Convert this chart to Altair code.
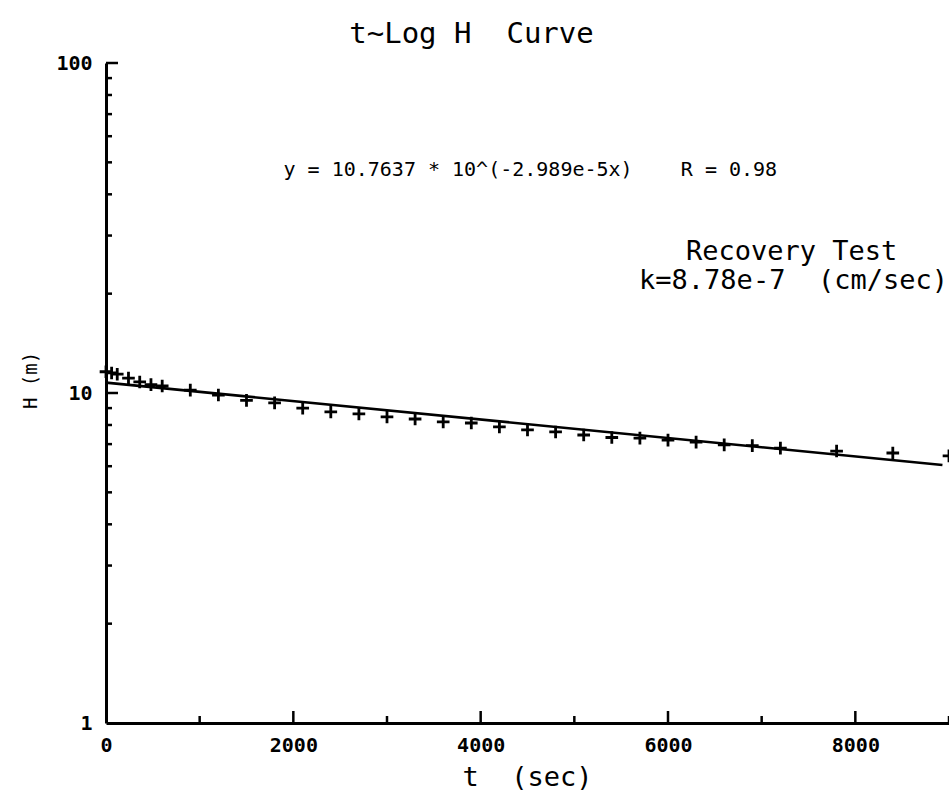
import altair as alt
import pandas as pd

NB = "\u00a0"

# observed points (t in sec, H in m)
t_obs = [0, 60, 120, 240, 360, 480, 600, 900, 1200, 1500, 1800, 2100, 2400, 2700,
         3000, 3300, 3600, 3900, 4200, 4500, 4800, 5100, 5400, 5700, 6000, 6300,
         6600, 6900, 7200, 7800, 8400, 9000]
h_obs = [11.6, 11.5, 11.4, 11.1, 10.8, 10.6, 10.5, 10.2, 9.86, 9.5, 9.33, 9.0, 8.76, 8.64,
         8.46, 8.34, 8.17, 8.11, 7.89, 7.73, 7.62, 7.46, 7.33, 7.3, 7.2, 7.1,
         6.96, 6.93, 6.81, 6.67, 6.58, 6.45]

# fitted line end points
fit_t = [0, 8930]
fit_h = [10.75, 6.05]

# axis ticks / labels
x_labels = [0, 2000, 4000, 6000, 8000]
x_major = [2000, 4000, 6000, 8000]
x_minor = [1000, 3000, 5000, 7000, 9000]
y_labels = [1, 10, 100]
y_major = [10, 100]
y_minor = [2, 3, 4, 5, 6, 7, 8, 9, 20, 30, 40, 50, 60, 70, 80, 90]

# annotations
ann_text = ["y = 10.7637 * 10^(-2.989e-5x)    R = 0.98", "Recovery Test", "k=8.78e-7  (cm/sec)"]
ann_t = [4530, 7320, 7340]
ann_h = [47.4, 26.75, 21.85]
ann_size = [20, 27, 27]

FONT = "DejaVu Sans Mono"
W, H = 843, 660

x_scale = alt.Scale(domain=[0, 9000], nice=False, zero=False)
y_scale = alt.Scale(type="log", domain=[1, 100], nice=False)

obs = pd.DataFrame({"t": t_obs, "H": h_obs})
fit = pd.DataFrame({"t": fit_t, "H": fit_h})
ann = pd.DataFrame({"t": ann_t, "H": ann_h,
                    "label": [s.replace(" ", NB) for s in ann_text], "size": ann_size})

x_axis = alt.Axis(values=x_labels, format="d", ticks=False, grid=False,
                  domainColor="black", domainWidth=3,
                  labelFont=FONT, labelFontSize=20, labelFontWeight="bold", labelColor="black",
                  labelPadding=22, labelBaseline="middle", labelFlush=False,
                  title="t" + NB + NB + "(sec)", titleFont=FONT, titleFontSize=27,
                  titleFontWeight="normal", titleColor="black",
                  titleX=421, titleY=54, titleBaseline="middle", titleAlign="center")
y_axis = alt.Axis(values=y_labels, format="d", ticks=False, grid=False,
                  domainColor="black", domainWidth=3,
                  labelFont=FONT, labelFontSize=20, labelFontWeight="bold", labelColor="black",
                  labelPadding=14, labelBaseline="middle", labelFlush=False,
                  title="H" + NB + "(m)", titleFont=FONT, titleFontSize=19,
                  titleFontWeight="normal", titleColor="black",
                  titleX=-76, titleY=317, titleAngle=270,
                  titleBaseline="middle", titleAlign="center")

points = alt.Chart(obs).mark_point(
    shape="M-1,0L1,0M0,-1L0,1", size=160, filled=False,
    color="black", strokeWidth=2.8, opacity=1
).encode(
    x=alt.X("t:Q", scale=x_scale, axis=x_axis),
    y=alt.Y("H:Q", scale=y_scale, axis=y_axis),
)

line = alt.Chart(fit).mark_line(color="black", strokeWidth=2.6).encode(
    x=alt.X("t:Q", scale=x_scale),
    y=alt.Y("H:Q", scale=y_scale),
)

y_maj = alt.Chart(pd.DataFrame({"H": y_major})).mark_rule(color="black", strokeWidth=2.5).encode(
    y=alt.Y("H:Q", scale=y_scale), x=alt.value(0), x2=alt.value(12))
y_min = alt.Chart(pd.DataFrame({"H": y_minor})).mark_rule(color="black", strokeWidth=2.5).encode(
    y=alt.Y("H:Q", scale=y_scale), x=alt.value(0), x2=alt.value(6))
x_maj = alt.Chart(pd.DataFrame({"t": x_major})).mark_rule(color="black", strokeWidth=2.5).encode(
    x=alt.X("t:Q", scale=x_scale), y=alt.value(H), y2=alt.value(H - 12))
x_min = alt.Chart(pd.DataFrame({"t": x_minor})).mark_rule(color="black", strokeWidth=2.5).encode(
    x=alt.X("t:Q", scale=x_scale), y=alt.value(H), y2=alt.value(H - 7))

texts = alt.Chart(ann).mark_text(font=FONT, color="black", align="center", baseline="middle").encode(
    x=alt.X("t:Q", scale=x_scale),
    y=alt.Y("H:Q", scale=y_scale),
    text="label:N",
    size=alt.Size("size:Q", scale=None, legend=None),
)

chart = alt.layer(points, line, y_maj, y_min, x_maj, x_min, texts).properties(
    width=W, height=H,
    title=alt.TitleParams("t~Log" + NB + "H" + NB + NB + "Curve", font=FONT, fontSize=29,
                          fontWeight="normal", color="black", anchor="middle",
                          dx=-56, offset=4),
    autosize=alt.AutoSizeParams(type="none"),
    padding={"left": 106, "top": 63, "right": 0, "bottom": 73},
    background="white",
).configure_view(stroke=None)

chart.save("out.html", embed_options={"renderer": "svg", "actions": False})
